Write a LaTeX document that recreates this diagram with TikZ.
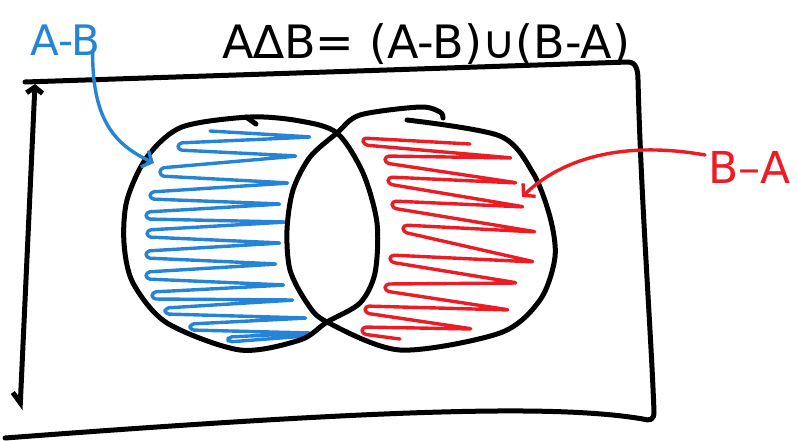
\documentclass[tikz,border=0pt]{standalone}
\usepackage{fontspec}
\setmainfont{DejaVu Sans}
\usepackage{tikz}
\usetikzlibrary{arrows.meta, positioning, calc}
\definecolor{penblue}{RGB}{38,132,214}
\definecolor{penred}{RGB}{237,28,36}

\tikzset{
  pen/.style={line width=5pt, line cap=round, line join=round},
  hatch/.style={line width=3.4pt, line cap=round, line join=round, rounded corners=4pt},
  handtext/.style={inner sep=0pt, anchor=base west},
  barb/.style={-{Straight Barb[length=8pt, width=18pt]}}
}

\begin{document}
\begin{tikzpicture}[x=1pt, y=-1pt]
  \useasboundingbox (0,0) rectangle (798,440);

  % the universe
  \draw[pen] (25,82) -- (628,62) .. controls (636,62) and (638,70) .. (638,80)
    .. controls (641,200) and (651,330) .. (654,412)
    .. controls (654,420) and (650,421) .. (643,419)
    .. controls (560,405) and (400,408) .. (5,438);
  \draw[pen, {Straight Barb[length=6pt, width=16pt]}-{Straight Barb[right, length=10pt, width=16pt]}]
    (35,84) -- (20,410);

  % A - B hatching
  \draw[hatch, penblue] (210,131) -- (312,137) -- (178,143) -- (178,150)
    -- (298,156) -- (160,168) -- (160,176) -- (290,183) -- (150,192) -- (150,199)
    -- (282,204) -- (146,212) -- (146,219) -- (287,222) -- (147,230) -- (147,237)
    -- (282,243) -- (146,251) -- (146,258) -- (278,264) -- (146,272) -- (146,279)
    -- (286,285) -- (152,292) -- (152,299) -- (295,300) -- (165,308) -- (165,314)
    -- (308,318) -- (190,324) -- (190,330) -- (312,333) -- (228,337) -- (228,342)
    -- (306,336);

  % B - A hatching
  \draw[hatch, penred] (470,144) -- (362,138) -- (364,145) -- (513,158)
    -- (385,156) -- (385,163) -- (518,183) -- (388,177) -- (388,184)
    -- (525,207) -- (392,201) -- (392,208) -- (537,232) -- (403,225) -- (403,232)
    -- (535,262) -- (390,255) -- (390,262) -- (518,283) -- (385,284) -- (385,291)
    -- (510,310) -- (365,306) -- (365,313) -- (473,329) -- (362,327) -- (362,334)
    -- (400,339);

  % the two sets
  \draw[pen] plot[smooth cycle] coordinates {(250,117) (300,121) (337,133) (363,173)
    (377,223) (375,273) (360,303) (327,322) (300,340) (240,350) (167,323) (133,283)
    (124,243) (127,200) (147,157) (182,127)};
  \draw[pen] (246,117) -- (256,124);
  \draw[pen] plot[smooth] coordinates {(407,120) (500,136) (533,173) (550,217)
    (555,257) (540,300) (500,333) (400,350) (327,322) (307,303) (290,270) (287,230)
    (293,190) (310,157) (337,133) (360,115) (420,107) (440,112) (443,118)};

  % labels
  \node[handtext, font=\fontsize{46}{52}\selectfont] (title) at (222,58) {A∆B= (A-B)∪(B-A)};
  \node[handtext, penblue, font=\fontsize{42}{48}\selectfont] (amb) at (30,55) {A-B};
  \node[handtext, penred, font=\fontsize{44}{50}\selectfont] (bma) at (708,183) {B–A};

  \coordinate (aTip) at (154,163);
  \coordinate (bTip) at (522,197);
  \draw[hatch, penblue, barb] (amb.south east) ++(-8,-4) .. controls (92,120) and (115,145) .. (aTip);
  \draw[hatch, penred, barb] (bma.west) ++(-3,-12) .. controls (620,140) and (560,160) .. (bTip);
\end{tikzpicture}
\end{document}
